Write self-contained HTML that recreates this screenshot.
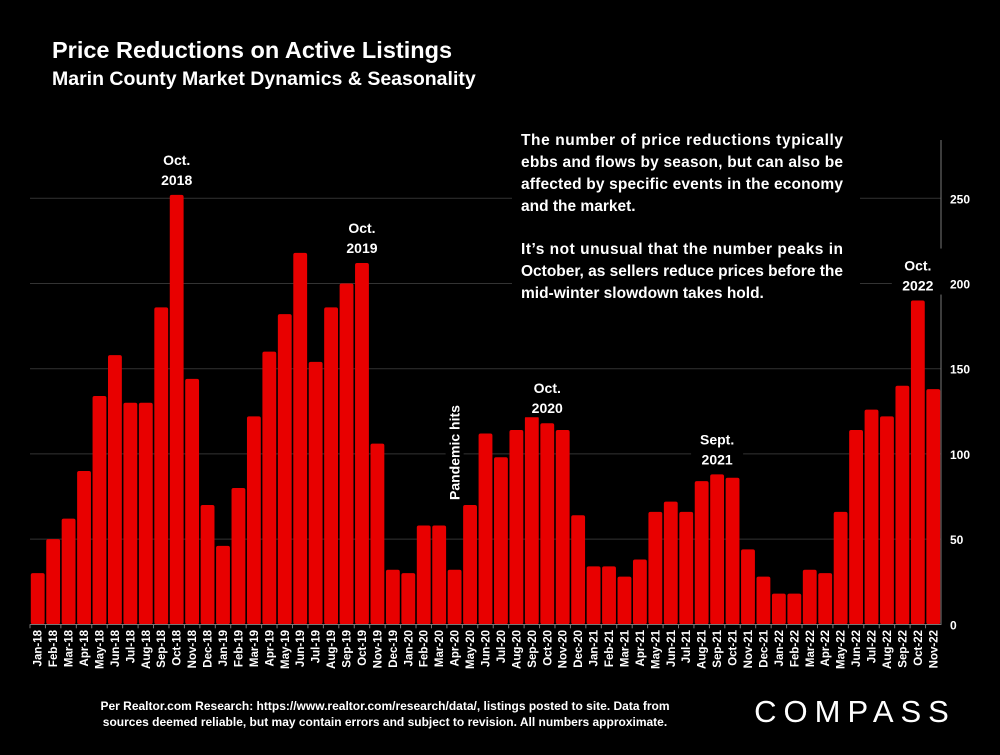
<!DOCTYPE html>
<html><head><meta charset="utf-8"><style>
body{margin:0;background:#000;width:1000px;height:750px;overflow:hidden;font-family:"Liberation Sans",sans-serif;}
</style></head><body>
<svg width="1000" height="750" xmlns="http://www.w3.org/2000/svg" id="svg" font-family="Liberation Sans, sans-serif">
<rect width="1000" height="750" fill="#000"/>
<text x="52" y="58" fill="#fff" font-size="23.5" font-weight="bold">Price Reductions on Active Listings</text>
<text x="52" y="85" fill="#fff" font-size="19.5" font-weight="bold">Marin County Market Dynamics &amp; Seasonality</text>
<g id="grid"></g><g id="bars"></g><g id="xlabels"></g><g id="yticks"></g>
<line x1="941" y1="140" x2="941" y2="625" stroke="#777" stroke-width="1"/>
<line x1="30" y1="624.5" x2="941" y2="624.5" stroke="#777" stroke-width="1"/>
<rect x="512" y="125" width="348" height="180" fill="#000"/>
<g fill="#fff" font-size="15.5" font-weight="bold">
<text x="521" y="145" textLength="322" lengthAdjust="spacing">The number of price reductions typically</text>
<text x="521" y="167" textLength="322" lengthAdjust="spacing">ebbs and flows by season, but can also be</text>
<text x="521" y="189" textLength="322" lengthAdjust="spacing">affected by specific events in the economy</text>
<text x="521" y="211">and the market.</text>
<text x="521" y="254" textLength="322" lengthAdjust="spacing">It’s not unusual that the number peaks in</text>
<text x="521" y="276" textLength="322" lengthAdjust="spacing">October, as sellers reduce prices before the</text>
<text x="521" y="298">mid-winter slowdown takes hold.</text>
</g>
<g id="notes" fill="#fff" font-size="14" font-weight="bold" text-anchor="middle"></g>
<g fill="#fff" font-size="12" font-weight="bold" text-anchor="middle">
<text x="385" y="710">Per Realtor.com Research:  https://www.realtor.com/research/data/, listings posted to site. Data from</text>
<text x="385" y="726">sources deemed reliable, but may contain errors and subject to revision. All numbers approximate.</text>
</g>
<text x="855" y="722" fill="#fff" font-size="31" text-anchor="middle" letter-spacing="7">COMPASS</text>
</svg>
<script>
const categories=["Jan-18","Feb-18","Mar-18","Apr-18","May-18","Jun-18","Jul-18","Aug-18","Sep-18","Oct-18","Nov-18","Dec-18","Jan-19","Feb-19","Mar-19","Apr-19","May-19","Jun-19","Jul-19","Aug-19","Sep-19","Oct-19","Nov-19","Dec-19","Jan-20","Feb-20","Mar-20","Apr-20","May-20","Jun-20","Jul-20","Aug-20","Sep-20","Oct-20","Nov-20","Dec-20","Jan-21","Feb-21","Mar-21","Apr-21","May-21","Jun-21","Jul-21","Aug-21","Sep-21","Oct-21","Nov-21","Dec-21","Jan-22","Feb-22","Mar-22","Apr-22","May-22","Jun-22","Jul-22","Aug-22","Sep-22","Oct-22","Nov-22"];
const values=[30,50,62,90,134,158,130,130,186,252,144,70,46,80,122,160,182,218,154,186,200,212,106,32,30,58,58,32,70,112,98,114,122,118,114,64,34,34,28,38,66,72,66,84,88,86,44,28,18,18,32,30,66,114,126,122,140,190,138];
const yTicks=[0,50,100,150,200,250];
const notes=[["Oct-18","Oct.","2018"],["Oct-19","Oct.","2019"],["Oct-20","Oct.","2020"],["Sep-21","Sept.","2021"],["Oct-22","Oct.","2022"]];
const NS="http://www.w3.org/2000/svg";
const x0=30,x1=941,y0=624.3,yTop=198.3;
const slot=(x1-x0)/categories.length;
function y(v){return y0-(v/250)*(y0-yTop);}
function xc(i){return x0+slot*(i+0.5);}
function mk(t,a,p){const e=document.createElementNS(NS,t);for(const k in a)e.setAttribute(k,a[k]);p.appendChild(e);return e;}
const grid=document.getElementById('grid'),yt=document.getElementById('yticks');
yTicks.forEach(v=>{
 if(v>0){const l=mk('line',{x1:x0,x2:x1,y1:y(v),y2:y(v),stroke:'#333','stroke-width':1},grid);
 
 }
 const t=mk('text',{x:950,y:y(v)+5,fill:'#fff','font-size':12,'font-weight':'bold'},yt);t.textContent=v;
 
 
});
const bars=document.getElementById('bars'),xl=document.getElementById('xlabels');
values.forEach((v,i)=>{
 const r=mk('rect',{x:x0+slot*i+0.8,y:y(v),width:slot-1.6,height:y0-y(v),fill:'#e80000',rx:2},bars);
 
 
 mk('line',{x1:x0+slot*i,x2:x0+slot*i,y1:y0,y2:y0+4,stroke:'#777'},xl);
 const t=mk('text',{x:0,y:0,fill:'#fff','font-size':11.5,'font-weight':'bold','text-anchor':'end',transform:`translate(${xc(i)+4},630) rotate(-90)`},xl);
 t.textContent=categories[i];
 
 
});
const ng=document.getElementById('notes');
notes.forEach(n=>{
 const i=categories.indexOf(n[0]);const top=y(values[i]);
 const cx=xc(i);
 mk('rect',{x:cx-26,y:top-52,width:52,height:46,fill:'#000'},ng);
 const a=mk('text',{x:cx,y:top-30},ng);a.textContent=n[1];
 
 
 const b=mk('text',{x:cx,y:top-10},ng);b.textContent=n[2];
 
 
});
const pi=categories.indexOf("Apr-20");
mk('rect',{x:xc(pi)-9,y:400,width:18,height:102,fill:'#000'},ng);
const ph=mk('text',{x:0,y:0,'font-size':14,'text-anchor':'start',transform:`translate(${xc(pi)+5},500) rotate(-90)`},ng);
ph.textContent="Pandemic hits";


</script>
</body></html>
